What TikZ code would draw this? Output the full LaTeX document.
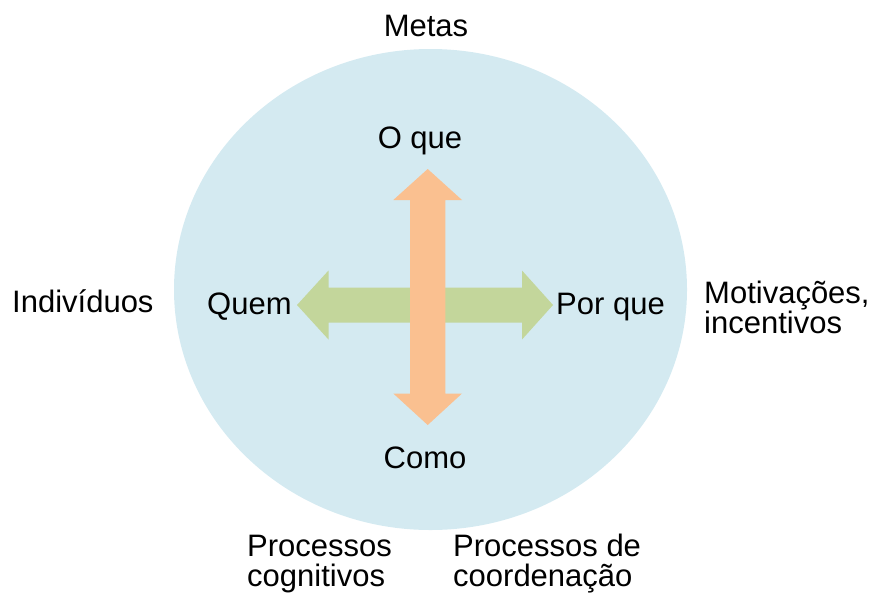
\documentclass[tikz,border=0pt]{standalone}
\usepackage{fontspec}
\setmainfont{Liberation Sans}
\usetikzlibrary{shapes.geometric, positioning}
\definecolor{bgblue}{HTML}{D4EAF1}
\definecolor{arrgreen}{HTML}{C3D69B}
\definecolor{arrorange}{HTML}{FAC090}

\begin{document}
\begin{tikzpicture}[x=1pt, y=-1pt, font=\fontsize{31}{30}\selectfont,
	lbl/.style={inner sep=0pt, align=left}]
			\useasboundingbox (0,0) rectangle (874,600);
			\node[ellipse, fill=bgblue, inner sep=0pt, minimum width=513pt, minimum height=481pt] (circ) at (430.5,289.5) {};
			
			% horizontal double arrow (Quem / Por que)
			\fill[arrgreen] (297,305) -- (328.5,270.5) -- (328.5,287.5) -- (522,287.5) -- (522,270.5) -- (553,305)
				-- (522,339.5) -- (522,322.5) -- (328.5,322.5) -- (328.5,339.5) -- cycle;
			% vertical double arrow (O que / Como)
			\fill[arrorange] (427.7,169) -- (462,200) -- (445.3,200) -- (445.3,393.5) -- (462,393.5) -- (427.7,425)
				-- (393.3,393.5) -- (410,393.5) -- (410,200) -- (393.3,200) -- cycle;
			
			\node[lbl, anchor=base] (oque) at (420,148) {O que};
			\node[lbl, anchor=base] (como) at (425,468) {Como};
			\node[lbl, anchor=base west] (quem) at (207,314) {Quem};
			\node[lbl, anchor=base west] (porque) at (556,314) {Por que};
			
			\node[lbl, anchor=base] (metas) at (426,36) {Metas};
			\node[lbl, anchor=base west] (indiv) at (12,312) {Indivíduos};
			\node[lbl, anchor=base west] (motiv) at (704,333) {Motivações,\\incentivos};
			\node[lbl, anchor=base west] (cogn) at (247,586) {Processos\\cognitivos};
			\node[lbl, anchor=base west] (coord) at (453,586) {Processos de\\coordenação};
\end{tikzpicture}
\end{document}
